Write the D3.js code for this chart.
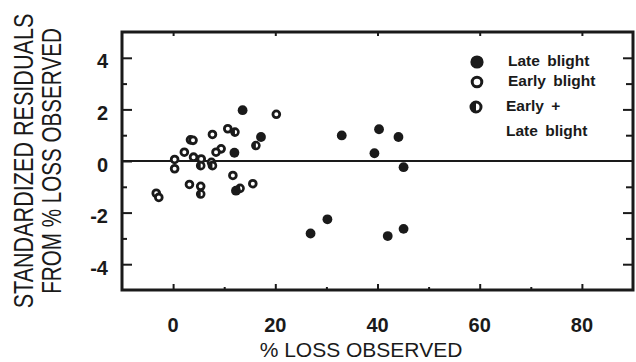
<!DOCTYPE html>
<html>
<head>
<meta charset="utf-8">
<script src="https://d3js.org/d3.v7.min.js"></script>
<style>
body { margin: 0; background: #fff; }
svg { display: block; }
text { font-family: "Liberation Sans", Arial, Helvetica, sans-serif; fill: #1a1a1a; }
</style>
</head>
<body>
<div id="chart"></div>
<script>
// residuals: [% loss observed, standardized residual]
var lateBlight = [
  [13.6, 1.97], [12.0, 0.32], [17.2, 0.93], [12.3, -1.15],
  [26.9, -2.81], [30.2, -2.26], [33.0, 0.99], [39.4, 0.30],
  [40.3, 1.23], [44.1, 0.93], [45.1, -0.24], [42.0, -2.91], [45.1, -2.63]
];
var earlyBlight = [
  [20.2, 1.81], [10.7, 1.25], [7.7, 1.03], [3.4, 0.82], [3.9, 0.80],
  [2.2, 0.34], [9.4, 0.47], [8.4, 0.34], [0.3, 0.06], [0.3, -0.30],
  [4.0, 0.15], [5.5, 0.08], [7.5, -0.05], [11.7, -0.56], [15.6, -0.88],
  [3.2, -0.91], [5.4, -0.98], [-3.3, -1.25], [-2.8, -1.41]
];
var bothBlight = [
  [12.1, 1.12], [16.2, 0.60], [13.1, -1.06], [5.4, -1.28],
  [5.4, -0.18], [7.7, -0.18]
];
var xTicks = [0, 20, 40, 60, 80];
var xMinor = [10, 30, 50, 70];
var yTicks = [-4, -2, 0, 2, 4];
var yMinor = [-3, -1, 1, 3];
var legendLabels = ["Late blight", "Early blight", "Early +", "Late blight"];

var W = 636, H = 362;
var ink = "#1a1a1a";

var svg = d3.select("#chart").append("svg")
  .attr("width", W)
  .attr("height", H);

var x = d3.scaleLinear().domain([-10, 90]).range([122, 633]);
var y = d3.scaleLinear().domain([-5, 5]).range([290, 32]);

// axes with inward ticks
function tickAxis(axisFn, scale, vals, size, pos, horiz) {
  var g = svg.append("g")
    .attr("transform", horiz ? "translate(0," + pos + ")" : "translate(" + pos + ",0)")
    .call(axisFn(scale).tickValues(vals).tickSize(size).tickFormat(""));
  g.select(".domain").remove();
  g.selectAll(".tick line").attr("stroke", ink).attr("stroke-width", 2);
  return g;
}
tickAxis(d3.axisBottom, x, xTicks, -6, 290, true);
tickAxis(d3.axisBottom, x, xMinor, -3, 290, true);
tickAxis(d3.axisTop, x, xTicks, -4, 32, true);
tickAxis(d3.axisLeft, y, yTicks, -10, 122, false);
tickAxis(d3.axisLeft, y, yMinor, -5, 122, false);
tickAxis(d3.axisRight, y, yTicks.filter(function(d){ return d != 0; }), -10, 633, false);
tickAxis(d3.axisRight, y, yMinor, -7, 633, false);

// tick labels
svg.append("g").selectAll("text")
  .data(xTicks).enter().append("text")
  .attr("x", function(d) { return x(d); })
  .attr("y", 332)
  .attr("text-anchor", "middle")
  .style("font-size", "20px")
  .style("font-weight", "bold")
  .text(function(d) { return d; });

svg.append("g").selectAll("text")
  .data(yTicks).enter().append("text")
  .attr("x", 108)
  .attr("y", function(d) { return y(d) + 10.5; })
  .attr("text-anchor", "end")
  .style("font-size", "20px")
  .style("font-weight", "bold")
  .text(function(d) { return d < 0 ? "-" + Math.abs(d) : d; });

// frame + zero line
svg.append("rect")
  .attr("x", 122).attr("y", 32)
  .attr("width", 633 - 122).attr("height", 290 - 32)
  .attr("fill", "none").attr("stroke", ink).attr("stroke-width", 3);

svg.append("line")
  .attr("x1", x(-10)).attr("x2", x(90))
  .attr("y1", y(0)).attr("y2", y(0))
  .attr("stroke", ink).attr("stroke-width", 2);

// axis titles
svg.append("text")
  .attr("x", 361).attr("y", 357)
  .attr("text-anchor", "middle")
  .style("font-size", "21px")
  .text("% LOSS OBSERVED");

// condensed look of the scanned y title: squeeze along the text direction
svg.append("text")
  .attr("transform", "translate(33,161) rotate(-90) scale(0.8,1)")
  .attr("text-anchor", "middle")
  .style("font-size", "27px")
  .text("STANDARDIZED RESIDUALS");

svg.append("text")
  .attr("transform", "translate(61,161) rotate(-90) scale(0.765,1)")
  .attr("text-anchor", "middle")
  .style("font-size", "27px")
  .text("FROM % LOSS OBSERVED");

// markers
function halfDisc(r) {
  return d3.arc()({innerRadius: 0, outerRadius: r, startAngle: Math.PI, endAngle: 2 * Math.PI});
}
function drawOpen(g, r, sw) {
  g.append("circle").attr("r", r).attr("fill", "#fff").attr("stroke", ink).attr("stroke-width", sw);
}
function drawFilled(g, r) {
  g.append("circle").attr("r", r).attr("fill", ink);
}
function drawHalf(g, r, sw) {
  g.append("circle").attr("r", r).attr("fill", "#fff").attr("stroke", ink).attr("stroke-width", sw);
  g.append("path").attr("d", halfDisc(r)).attr("fill", ink);
}

var pts = svg.append("g");
earlyBlight.forEach(function(d) {
  drawOpen(pts.append("g").attr("transform", "translate(" + x(d[0]) + "," + y(d[1]) + ")"), 3.4, 2.8);
});
bothBlight.forEach(function(d) {
  drawHalf(pts.append("g").attr("transform", "translate(" + x(d[0]) + "," + y(d[1]) + ")"), 3.5, 2.6);
});
lateBlight.forEach(function(d) {
  drawFilled(pts.append("g").attr("transform", "translate(" + x(d[0]) + "," + y(d[1]) + ")"), 4.9);
});

// legend
var leg = svg.append("g");
drawFilled(leg.append("g").attr("transform", "translate(477,62)"), 6.6);
drawOpen(leg.append("g").attr("transform", "translate(477,82)"), 4.8, 3);
drawHalf(leg.append("g").attr("transform", "translate(476,107)"), 5, 3);

var legY = [66, 86, 111, 136];
leg.selectAll("text.lab")
  .data(legendLabels).enter().append("text")
  .attr("x", function(d, i) { return i < 2 ? 508 : 506; })
  .attr("y", function(d, i) { return legY[i]; })
  .style("font-size", "15.5px")
  .style("font-weight", "bold")
  .style("word-spacing", "3px")
  .text(function(d) { return d; });
</script>
</body>
</html>
